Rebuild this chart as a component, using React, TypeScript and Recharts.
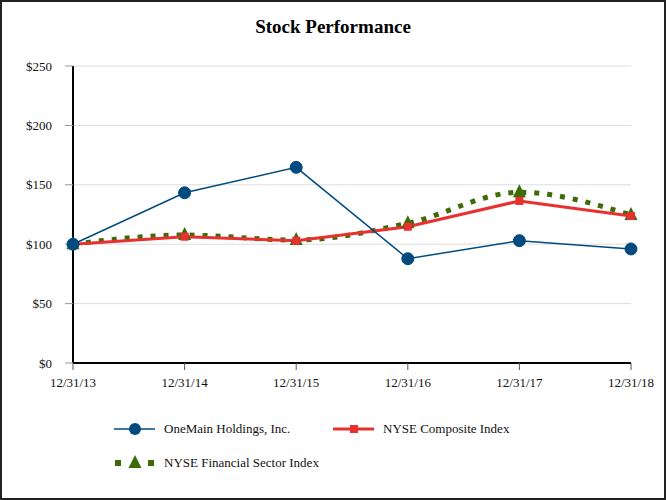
import React from "react";
import { CartesianGrid, Line, LineChart, XAxis, YAxis } from "recharts";

const dates = ["12/31/13", "12/31/14", "12/31/15", "12/31/16", "12/31/17", "12/31/18"];
const oneMain = [100, 143.3, 164.7, 87.8, 103, 96];
const nyseComposite = [100, 106.3, 102.9, 114.7, 136.4, 123.7];
const nyseFinancial = [100, 107.7, 103.5, 117.6, 143.7, 124.6];
const yTicks = [0, 50, 100, 150, 200, 250];

const BLUE = "#004a80";
const RED = "#e8312f";
const GREEN = "#3d6b07";
const FONT = "'Liberation Serif', 'Times New Roman', serif";

const data = dates.map((label, i) => ({
  label,
  oneMain: oneMain[i],
  composite: nyseComposite[i],
  financial: nyseFinancial[i],
}));

const Circle = (props: any) => {
  const { cx, cy } = props;
  if (cx == null || cy == null) return null;
  return <circle cx={cx} cy={cy} r={6} fill={BLUE} stroke={BLUE} />;
};

const Square = (props: any) => {
  const { cx, cy } = props;
  if (cx == null || cy == null) return null;
  return <rect x={cx - 4} y={cy - 4} width={8} height={8} fill={RED} />;
};

const Triangle = (props: any) => {
  const { cx, cy } = props;
  if (cx == null || cy == null) return null;
  return <polygon points={`${cx},${cy - 8} ${cx + 6.5},${cy + 5} ${cx - 6.5},${cy + 5}`} fill={GREEN} />;
};

function LegendItem({ kind, text, x, y }: { kind: string; text: string; x: number; y: number }) {
  return (
    <div style={{ position: "absolute", left: x, top: y - 10, height: 20, display: "flex", alignItems: "center" }}>
      <svg width={42} height={20} style={{ marginRight: 8 }}>
        {kind === "circle" && (
          <>
            <line x1={0} y1={10} x2={41} y2={10} stroke={BLUE} strokeWidth={1.5} />
            <circle cx={21} cy={10} r={6} fill={BLUE} />
          </>
        )}
        {kind === "square" && (
          <>
            <line x1={0} y1={10} x2={41} y2={10} stroke={RED} strokeWidth={3} />
            <rect x={17} y={6} width={8} height={8} fill={RED} />
          </>
        )}
        {kind === "triangle" && (
          <>
            <rect x={1} y={7} width={6} height={6} fill={GREEN} />
            <polygon points="21,2 27.5,15 14.5,15" fill={GREEN} />
            <rect x={34} y={7} width={6} height={6} fill={GREEN} />
          </>
        )}
      </svg>
      <span style={{ fontFamily: FONT, fontSize: 13, color: "#111", whiteSpace: "nowrap" }}>{text}</span>
    </div>
  );
}

export default function App() {
  return (
    <div style={{ position: "fixed", left: 0, top: 0, width: 666, height: 500, background: "#fff" }}>
      <div
        style={{
          position: "absolute",
          left: 0,
          top: 0,
          width: 666,
          textAlign: "center",
          top: 16,
          fontFamily: FONT,
          fontWeight: "bold",
          fontSize: 19,
          color: "#000",
        }}
      >
        Stock Performance
      </div>
      <LineChart width={666} height={500} data={data} margin={{ top: 66, right: 35, left: 0, bottom: 107 }}>
        <CartesianGrid vertical={false} stroke="#dcdcdc" />
        <XAxis
          dataKey="label"
          height={30}
          axisLine={{ stroke: "#000", strokeWidth: 2 }}
          tickLine={{ stroke: "#555" }}
          tickSize={7}
          tickMargin={8}
          tick={{ fontFamily: FONT, fontSize: 13, fill: "#111" }}
          interval={0}
        />
        <YAxis
          width={73}
          domain={[0, 250]}
          ticks={yTicks}
          tickFormatter={(v) => `$${v}`}
          axisLine={{ stroke: "#000", strokeWidth: 2 }}
          tickLine={{ stroke: "#999" }}
          tickSize={8}
          tickMargin={13}
          tick={{ fontFamily: FONT, fontSize: 13, fill: "#111" }}
        />
        <Line
          type="monotone"
          dataKey="financial"
          stroke={GREEN}
          strokeWidth={5}
          strokeDasharray="5 8"
          dot={<Triangle />}
          activeDot={false}
          isAnimationActive={false}
        />
        <Line
          type="linear"
          dataKey="composite"
          stroke={RED}
          strokeWidth={3}
          dot={<Square />}
          activeDot={false}
          isAnimationActive={false}
        />
        <Line
          type="linear"
          dataKey="oneMain"
          stroke={BLUE}
          strokeWidth={1.5}
          dot={<Circle />}
          activeDot={false}
          isAnimationActive={false}
        />
      </LineChart>
      <LegendItem kind="circle" text="OneMain Holdings, Inc." x={114} y={429} />
      <LegendItem kind="square" text="NYSE Composite Index" x={333} y={429} />
      <LegendItem kind="triangle" text="NYSE Financial Sector Index" x={114} y={463} />
      <div
        style={{
          position: "absolute",
          left: 0,
          top: 0,
          width: 666,
          height: 500,
          boxSizing: "border-box",
          border: "2px solid #222",
          pointerEvents: "none",
        }}
      />
    </div>
  );
}
